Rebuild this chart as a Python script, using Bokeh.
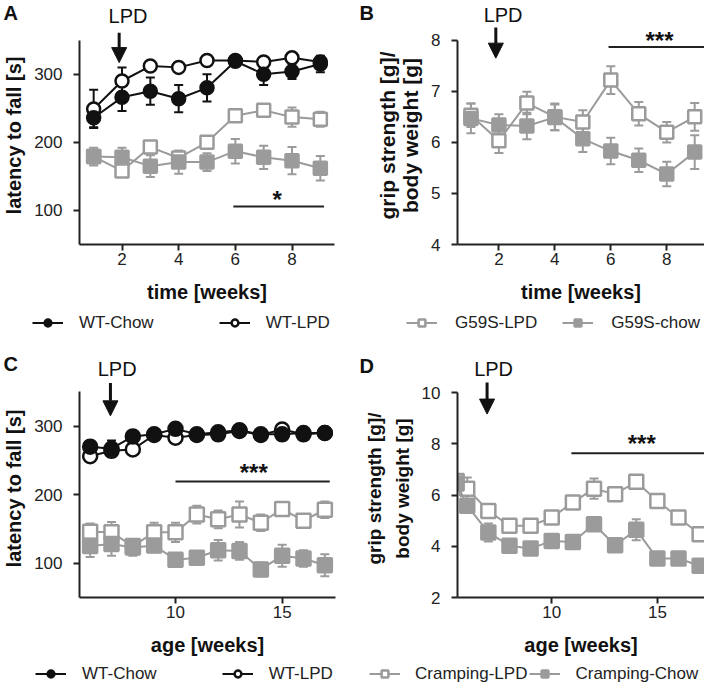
from bokeh.plotting import figure
from bokeh.models import (ColumnDataSource, Whisker, TeeHead, Arrow, NormalHead,
                          Legend, LegendItem, FixedTicker, Range1d)
from bokeh.layouts import column, row
from bokeh.embed import file_html
from bokeh.resources import INLINE
from bokeh.core.properties import value

FONT = "Liberation Sans"
BLACK = "#111111"
GRAY = "#9b9b9b"
NAN = float("nan")

# ---------------- data ----------------
weeks = [1, 2, 3, 4, 5, 6, 7, 8, 9]
A_wt_chow = [236, 266, 275, 264, 280, 319, 300, 304, 315]
A_wt_chow_err = [14, 20, 20, 20, 20, 5, 16, 11, 12]
A_wt_lpd = [249, 290, 312, 310, 320, 320, 318, 324, 318]
A_wt_lpd_err = [28, 20, 4, 6, 3, 3, 5, 4, 4]
A_g59s_lpd = [179, 158, 193, 177, 200, 239, 247, 237, 234]
A_g59s_lpd_err = [10, 6, 6, 8, 8, 5, 5, 14, 11]
A_g59s_chow = [179, 178, 165, 171, 171, 187, 178, 173, 162]
A_g59s_chow_err = [13, 14, 16, 17, 13, 18, 17, 20, 18]

B_g59s_lpd = [6.53, 6.03, 6.77, 6.50, 6.40, 7.22, 6.56, 6.20, 6.50]
B_g59s_lpd_err = [0.23, 0.24, 0.22, 0.26, 0.23, 0.27, 0.23, 0.20, 0.27]
B_g59s_chow = [6.47, 6.34, 6.32, 6.49, 6.07, 5.83, 5.65, 5.38, 5.81]
B_g59s_chow_err = [0.29, 0.21, 0.26, 0.25, 0.26, 0.26, 0.23, 0.24, 0.33]

age = [6, 7, 8, 9, 10, 11, 12, 13, 14, 15, 16, 17]
C_wt_chow = [270, 267, 285, 288, 296, 288, 291, 294, 288, 288, 290, 290]
C_wt_chow_err = [6, 12, 4, 5, 4, 4, 4, 3, 4, 4, 3, 3]
C_wt_lpd = [256, 264, 266, 287, 283, 287, 288, 293, 287, 295, 288, 290]
C_wt_lpd_err = [5, 6, 5, 5, 5, 4, 4, 3, 4, 4, 3, 3]
C_cr_lpd = [146, 145, 125, 145, 145, 171, 164, 171, 159, 179, 162, 178]
C_cr_lpd_err = [12, 15, 10, 14, 14, 13, 13, 19, 12, 8, 8, 12]
C_cr_chow = [125, 128, 123, 126, 105, 108, 119, 118, 91, 111, 107, 97]
C_cr_chow_err = [16, 17, 12, 10, 8, 10, 15, 13, 10, 16, 12, 16]

age_D = [5.5, 6, 7, 8, 9, 10, 11, 12, 13, 14, 15, 16, 17]
D_cr_lpd = [6.55, 6.25, 5.38, 4.80, 4.80, 5.12, 5.71, 6.25, 6.03, 6.52, 5.77, 5.12, 4.47]
D_cr_lpd_err = [0.2, 0.43, 0.15, 0.12, 0.15, 0.12, 0.12, 0.40, 0.15, 0.12, 0.12, 0.15, 0.10]
D_cr_chow = [6.45, 5.58, 4.54, 4.02, 3.91, 4.21, 4.17, 4.86, 4.04, 4.64, 3.52, 3.52, 3.24]
D_cr_chow_err = [0.2, 0.25, 0.35, 0.12, 0.10, 0.10, 0.10, 0.10, 0.10, 0.41, 0.10, 0.10, 0.10]

ticks_weeks = [2, 4, 6, 8]
ticks_age = [10, 15]
ticks_latency = [100, 200, 300]
ticks_grip_B = [4, 5, 6, 7, 8]
ticks_grip_D = [2, 4, 6, 8, 10]


def blank(width, height):
    f = figure(width=width, height=height, x_range=Range1d(0, width), y_range=Range1d(0, height),
               output_backend="svg", toolbar_location=None, min_border=0,
               x_axis_location=None, y_axis_location=None, frame_align=False)
    f.grid.visible = False
    f.outline_line_color = None
    return f


def header(width, height, letter, letter_x, letter_y, lpd_x, lpd_y):
    h = blank(width, height)
    h.text(x=[letter_x], y=[letter_y], text=[letter], text_font=value(FONT), text_font_size="20px",
           text_font_style="bold", text_align="left", text_baseline="alphabetic", text_color=BLACK)
    h.text(x=[lpd_x], y=[lpd_y], text=["LPD"], text_font=value(FONT), text_font_size="20px",
           text_align="center", text_baseline="alphabetic", text_color=BLACK)
    return h


def panel(width, height, xr, yr, yb, xt, yt, xlab, ylab, mb_left, mb_right, mb_bottom,
          ylab_size="20px", ylab_lh=1.2, y_lab_standoff=11, y_axis_standoff=6,
          x_lab_standoff=2, x_axis_standoff=13):
    p = figure(width=width, height=height, x_range=Range1d(*xr), y_range=Range1d(*yr),
               output_backend="svg", toolbar_location=None, frame_align=False,
               min_border_left=mb_left, min_border_right=mb_right,
               min_border_top=0, min_border_bottom=mb_bottom)
    p.xgrid.visible = False
    p.ygrid.visible = False
    p.outline_line_color = None
    for ax in (p.xaxis[0], p.yaxis[0]):
        ax.axis_line_width = 2
        ax.axis_line_color = "#222222"
        ax.major_tick_line_width = 2
        ax.major_tick_line_color = "#222222"
        ax.major_tick_in = 0
        ax.major_tick_out = 6
        ax.minor_tick_line_color = None
        ax.major_label_text_font = FONT
        ax.major_label_text_font_size = "17px"
        ax.major_label_text_color = "#222222"
        ax.axis_label_text_font = FONT
        ax.axis_label_text_font_style = "bold"
        ax.axis_label_text_font_size = "20px"
        ax.axis_label_text_color = "#111111"
    p.xaxis[0].ticker = FixedTicker(ticks=xt)
    p.yaxis[0].ticker = FixedTicker(ticks=yt)
    p.yaxis[0].bounds = yb
    p.xaxis[0].axis_label = xlab
    p.yaxis[0].axis_label = ylab
    p.yaxis[0].axis_label_text_font_size = ylab_size
    p.yaxis[0].axis_label_text_line_height = ylab_lh
    p.yaxis[0].major_label_standoff = y_lab_standoff
    p.yaxis[0].axis_label_standoff = y_axis_standoff
    p.xaxis[0].major_label_standoff = x_lab_standoff
    p.xaxis[0].axis_label_standoff = x_axis_standoff
    return p


def series(p, x, y, err, color, fill, marker, size=13):
    src = ColumnDataSource(dict(x=x, y=y,
                                lo=[a - b for a, b in zip(y, err)],
                                hi=[a + b for a, b in zip(y, err)]))
    w = Whisker(source=src, base="x", upper="hi", lower="lo", line_color=color, line_width=2,
                upper_head=TeeHead(size=9, line_color=color, line_width=2),
                lower_head=TeeHead(size=9, line_color=color, line_width=2))
    p.add_layout(w)
    p.line("x", "y", source=src, line_color=color, line_width=2)
    p.scatter("x", "y", source=src, marker=marker, size=size, line_color=color,
              fill_color=fill, line_width=2.5)


def annotate(p, arrow_x, arrow_top, arrow_tip, sig_x, sig_y, star_x, star_y, stars):
    p.add_layout(Arrow(x_start=arrow_x, y_start=arrow_top, x_end=arrow_x, y_end=arrow_tip,
                       line_width=3, line_color=BLACK,
                       end=NormalHead(size=15, fill_color=BLACK, line_color=BLACK)))
    p.line(x=sig_x, y=[sig_y, sig_y], line_color="#222222", line_width=2)
    p.text(x=[star_x], y=[star_y], text=[stars], text_font=value(FONT), text_font_size="24px",
           text_font_style="bold", text_align="center", text_baseline="alphabetic", text_color=BLACK)


def legend_fig(width, height, entries, x_off, y_off, spacing, standoff=16, size=13):
    lf = blank(width, height)
    items = []
    for label, color, fill, marker in entries:
        l = lf.line(x=[NAN], y=[NAN], line_color=color, line_width=2)
        s = lf.scatter(x=[NAN], y=[NAN], marker=marker, size=size, line_color=color,
                       fill_color=fill, line_width=2.5)
        items.append(LegendItem(label=label, renderers=[l, s]))
    lg = Legend(items=items, orientation="horizontal", location=(x_off, y_off), spacing=spacing,
                glyph_width=31, glyph_height=17, label_height=17, label_standoff=standoff,
                padding=0, margin=0, label_text_font=FONT, label_text_font_size="17px",
                label_text_color="#222222", border_line_color=None, background_fill_alpha=0)
    lf.add_layout(lg)
    return lf


# ---------------- panel A ----------------
hA = header(356, 26, "A", 3, 13.5, 127.5, 10.3)
pA = panel(356, 284, (0.5, 9.5), (50, 370), (50, 350), ticks_weeks, ticks_latency,
           "time [weeks]", "latency to fall [s]", 79, 22, 66)
series(pA, weeks, A_g59s_lpd, A_g59s_lpd_err, GRAY, "white", "square")
series(pA, weeks, A_g59s_chow, A_g59s_chow_err, GRAY, GRAY, "square")
series(pA, weeks, A_wt_lpd, A_wt_lpd_err, BLACK, "white", "circle")
series(pA, weeks, A_wt_chow, A_wt_chow_err, BLACK, BLACK, "circle")
annotate(pA, 1.9, 361, 317, [5.93, 9.13], 105.9, 7.48, 116, "*")
lA = legend_fig(356, 26, [("WT-Chow", BLACK, BLACK, "circle"), ("WT-LPD", BLACK, "white", "circle")],
                32, 3.5, 65)

# ---------------- panel B ----------------
hB = header(348, 26, "B", 3, 13.5, 146.6, 12)
pB = panel(348, 284, (0.52, 9.35), (4, 8.27), (4, 8), ticks_weeks, ticks_grip_B,
           "time [weeks]", "grip strength [g]/\nbody weight [g]", 101, 0, 66,
           ylab_size="21px", ylab_lh=1.0)
series(pB, weeks, B_g59s_lpd, B_g59s_lpd_err, GRAY, "white", "square")
series(pB, weeks, B_g59s_chow, B_g59s_chow_err, GRAY, GRAY, "square")
annotate(pB, 1.89, 8.25, 7.65, [5.92, 9.35], 7.87, 7.74, 8.0, "***")
lB = legend_fig(348, 26, [("G59S-LPD", GRAY, "white", "square"), ("G59S-chow", GRAY, GRAY, "square")],
                50, 3.5, 25, 18)

# ---------------- panel C ----------------
hC = header(356, 43, "C", 3, 15.5, 116.7, 11)
pC = panel(356, 283, (5.5, 17.5), (50, 368), (50, 350), ticks_age, ticks_latency,
           "age [weeks]", "latency to fall [s]", 79, 21, 65)
series(pC, age, C_cr_lpd, C_cr_lpd_err, GRAY, "white", "square", 14)
series(pC, age, C_cr_chow, C_cr_chow_err, GRAY, GRAY, "square", 14)
series(pC, age, C_wt_lpd, C_wt_lpd_err, BLACK, "white", "circle", 14)
series(pC, age, C_wt_chow, C_wt_chow_err, BLACK, BLACK, "circle", 14)
annotate(pC, 6.95, 363, 315, [10.0, 17.23], 219.3, 13.67, 233, "***")
lC = legend_fig(356, 22, [("WT-Chow", BLACK, BLACK, "circle"), ("WT-LPD", BLACK, "white", "circle")],
                35, 0.5, 65)

# ---------------- panel D ----------------
hD = header(348, 43, "D", 3, 14, 137.1, 11)
pD = panel(348, 283, (5.54, 17.23), (2, 10.51), (2, 10), ticks_age, ticks_grip_D,
           "age [weeks]", "grip strength [g]/\nbody weight [g]", 101, 0, 65,
           ylab_size="19px", ylab_lh=1.3)
series(pD, age_D, D_cr_lpd, D_cr_lpd_err, GRAY, "white", "square", 14)
series(pD, age_D, D_cr_chow, D_cr_chow_err, GRAY, GRAY, "square", 14)
annotate(pD, 6.94, 10.39, 9.16, [10.93, 17.23], 7.63, 14.26, 8.03, "***")
lD = legend_fig(348, 22, [("Cramping-LPD", GRAY, "white", "square"), ("Cramping-Chow", GRAY, GRAY, "square")],
                13, 0.5, 2, 15)

layout = column(row(column(hA, pA, lA), column(hB, pB, lB)),
                row(column(hC, pC, lC), column(hD, pD, lD)))

open("out.html", "w").write(file_html(layout, INLINE))
